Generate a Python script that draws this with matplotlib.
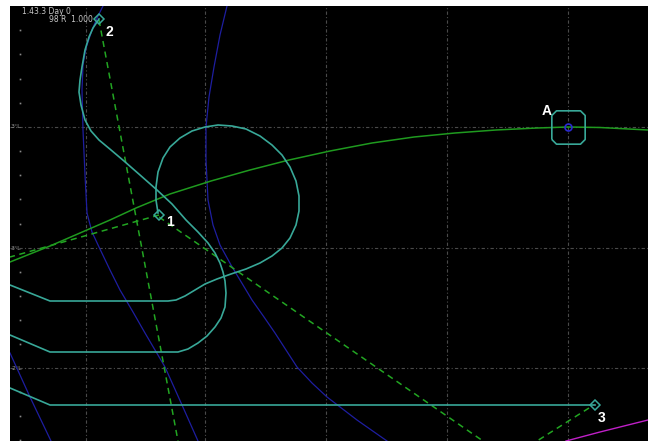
import matplotlib
matplotlib.use("Agg")
import matplotlib.pyplot as plt

# ---- data (chart coordinates: x to the right, y downwards, display units) ----
grid_x = [86, 205, 326, 447, 568]
grid_y = [127, 248, 368]
grid_labels = ["3°L", "3°L", "2°L"]

# teal route from waypoint 2
route2_x = [99, 93, 89, 85, 82, 80, 79, 81, 85, 91, 99, 111, 124, 140, 157, 172, 186, 198, 208, 215, 220, 223, 225, 226, 225, 221, 215, 207, 198, 188, 178, 50, 10]
route2_y = [19, 28, 37, 50, 67, 80, 92, 105, 120, 131, 140, 150, 161, 175, 190, 204, 220, 232, 243, 253, 263, 272, 281, 293, 307, 318, 327, 336, 343, 349, 352, 352, 335]

# teal loop from waypoint 1
loop1_x = [158, 156, 156, 158, 163, 170, 180, 192, 205, 218, 232, 246, 260, 272, 282, 290, 296, 299, 299, 296, 290, 282, 272, 260, 246, 231, 217, 205, 195, 185, 176, 168, 50, 10]
loop1_y = [213, 200, 187, 172, 158, 147, 138, 131, 127, 125, 126, 129, 136, 145, 155, 167, 181, 196, 211, 225, 238, 248, 256, 263, 269, 274, 279, 284, 290, 296, 300, 301, 301, 285]

# teal route to waypoint 3
route3_x = [10, 50, 595]
route3_y = [388, 405, 405]

# green solid curve
green_x = [10, 30, 50, 80, 110, 136, 170, 211, 250, 289, 330, 372, 414, 455, 496, 537, 568, 600, 648]
green_y = [262, 254, 246, 233, 220, 208, 194, 181, 170, 160, 151, 143, 137, 133, 130, 128, 127, 127.5, 130]

# green dashed bearing lines
dash_a_x = [99, 178]
dash_a_y = [20, 441]
dash_b_x = [159, 483]
dash_b_y = [217, 441]
dash_c_x = [159, 10]
dash_c_y = [215, 257]
dash_d_x = [589, 537]
dash_d_y = [408, 441]

# blue arcs
blue1_x = [227, 220, 214, 209, 206, 206, 208, 213, 220, 231, 243, 252, 264, 275, 286, 297, 312, 327, 357, 387]
blue1_y = [6, 35, 67, 97, 127, 160, 200, 225, 245, 265, 285, 300, 317, 333, 350, 367, 383, 397, 420, 441]
blue2_x = [103, 98, 92, 86, 83, 82, 83, 85, 87, 92, 99, 110, 120, 133, 145, 155, 165, 182, 198]
blue2_y = [6, 16, 30, 48, 65, 90, 130, 175, 213, 232, 247, 270, 290, 312, 333, 350, 367, 405, 441]
blue3_x = [10, 20, 30, 40, 51]
blue3_y = [353, 375, 397, 418, 441]

# magenta line
mag_x = [566, 600, 648]
mag_y = [441, 432, 420]

# waypoints
wp_x = [159, 99, 595]
wp_y = [215, 19, 405]
wp_labels = ["1", "2", "3"]
wp_label_x = [166, 105, 598]
wp_label_y = [222, 32, 418]

# target A
tgt_x = [568]
tgt_y = [127]
tgt_label = "A"
tgt_label_x = [542]
tgt_label_y = [111]

# left-edge tick dots
tick_y = [30, 54, 79, 103, 151, 175, 199, 224, 272, 296, 320, 344, 392, 416, 440]

# ---- drawing ----
fig = plt.figure(figsize=(6.48, 4.41), dpi=100, facecolor="white")
ax = fig.add_axes([10 / 648, 0, 638 / 648, 435 / 441])
ax.set_facecolor("black")
ax.set_xlim(10, 648)
ax.set_ylim(441, 6)
ax.set_xticks([])
ax.set_yticks([])
for s in ax.spines.values():
    s.set_visible(False)

gcol = "#4a4a4a"
for gx in grid_x:
    ax.axvline(gx, color=gcol, lw=0.8, ls=(0, (3, 2, 1, 2)), zorder=1)
for gy, lab in zip(grid_y, grid_labels):
    ax.axhline(gy, color=gcol, lw=0.8, ls=(0, (3, 2, 1, 2)), zorder=1)
    ax.text(11, gy, lab, color="#9a9a9a", fontsize=4.5, va="center", ha="left", zorder=2)

ax.plot([20] * len(tick_y), tick_y, ls="none", marker="s", ms=1.2, color="#8a8a8a", mec="none", zorder=2)

blue = "#1e1ea0"
ax.plot(blue1_x, blue1_y, color=blue, lw=0.9, zorder=3)
ax.plot(blue2_x, blue2_y, color=blue, lw=0.9, zorder=3)
ax.plot(blue3_x, blue3_y, color=blue, lw=0.9, zorder=3)
ax.plot(mag_x, mag_y, color="#c020c8", lw=1.0, zorder=3)

gdash = "#22a522"
for xs, ys in [(dash_a_x, dash_a_y), (dash_b_x, dash_b_y), (dash_c_x, dash_c_y), (dash_d_x, dash_d_y)]:
    ax.plot(xs, ys, color=gdash, lw=1.1, ls=(0, (4, 3)), zorder=4)
ax.plot(green_x, green_y, color="#1f9a1f", lw=1.1, zorder=4)

teal = "#38a898"
ax.plot(route2_x, route2_y, color=teal, lw=1.2, zorder=5)
ax.plot(loop1_x, loop1_y, color=teal, lw=1.2, zorder=5)
ax.plot(route3_x, route3_y, color=teal, lw=1.2, zorder=5)

ax.plot(wp_x, wp_y, ls="none", marker="D", ms=5, mfc="none", mec=teal, mew=1.1, zorder=6)
for lx, ly, lab in zip(wp_label_x, wp_label_y, wp_labels):
    ax.text(lx, ly, lab, color="white", fontsize=10, fontweight="bold",
            family="Liberation Sans", ha="left", va="center", zorder=7)

octagon = [(-1, -0.72), (-0.72, -1), (0.72, -1), (1, -0.72), (1, 0.72), (0.72, 1), (-0.72, 1), (-1, 0.72), (-1, -0.72)]
ax.plot(tgt_x, tgt_y, ls="none", marker=octagon, ms=24, mfc="none", mec=teal, mew=1.2, zorder=6)
ax.plot(tgt_x, tgt_y, ls="none", marker="o", ms=5, mfc="none", mec="#2a2ad0", mew=1.2, zorder=6)
ax.text(tgt_label_x[0], tgt_label_y[0], tgt_label, color="white", fontsize=10, fontweight="bold",
        family="Liberation Sans", ha="left", va="center", zorder=7)

ax.text(22, 12, "1.43.3 Day 0", color="#c8c8c8", fontsize=5.5, ha="left", va="center", zorder=7)
ax.text(93, 19.5, "98 R  1.000", color="#c8c8c8", fontsize=5.5, ha="right", va="center", zorder=7)

fig.savefig("out.png", dpi=100, facecolor="white")
